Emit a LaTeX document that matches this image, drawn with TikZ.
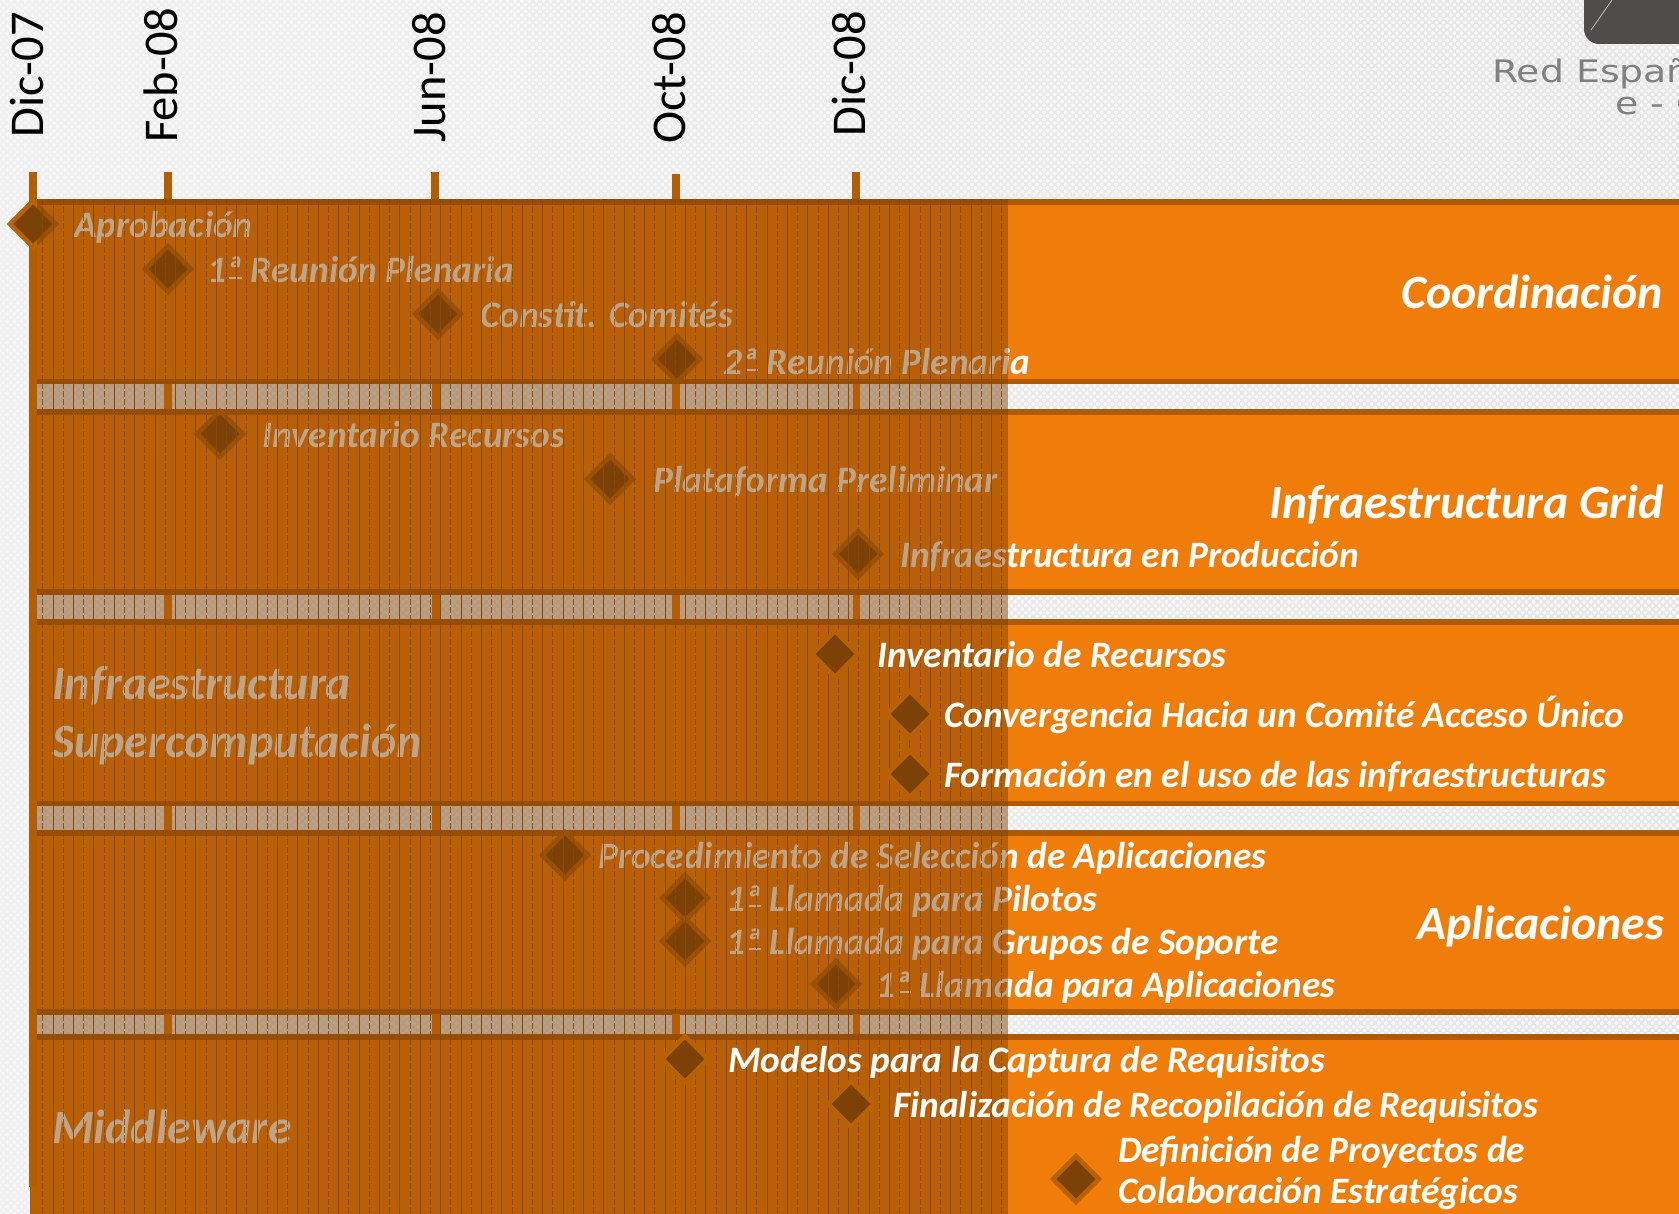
\documentclass[tikz,border=0pt]{standalone}
\usepackage{fontspec}
\usepackage{xcolor}
\usepackage{tikz}
\setmainfont{Carlito}
\newfontfamily\logofont{DejaVu Sans}
\usetikzlibrary{shapes.geometric,patterns}
\definecolor{bandorange}{HTML}{F07C0A}
\definecolor{bandline}{HTML}{B05A00}
\definecolor{tickbrown}{HTML}{B35E05}
\definecolor{haloorange}{HTML}{B86103}
\definecolor{shadebrown}{HTML}{7C4107}
\definecolor{stripebrown}{HTML}{8A4A05}
\definecolor{logogray}{HTML}{4F4D4B}
\pgfdeclarepatternformonly{bgdots}{\pgfqpoint{-3pt}{-3pt}}{\pgfqpoint{7pt}{7pt}}{\pgfqpoint{7.2pt}{7.2pt}}{
    \pgfpathcircle{\pgfqpoint{0pt}{0pt}}{2pt}
    \pgfpathcircle{\pgfqpoint{3.6pt}{3.6pt}}{2pt}
    \pgfusepath{fill}
}
\newcommand{\ordbar}{ª\llap{\rule[0.1em]{0.34em}{0.05em}\kern0.01em}}

\begin{document}
\begin{tikzpicture}[
    x=1pt, y=-1pt,
    band/.style={fill=bandorange, draw=bandline, line width=5.5pt},
    tick/.style={fill=tickbrown},
    milestone/.style={diamond, aspect=1, draw=haloorange, fill=shadebrown, line width=4.6pt, minimum size=47.5pt, inner sep=0pt},
    itemlabel/.style={anchor=base west, inner sep=0pt, text=white, font=\bfseries\itshape\fontsize{37.3}{40}\selectfont},
    blocklabel/.style={anchor=base east, inner sep=0pt, text=white, font=\bfseries\itshape\fontsize{47.8}{50}\selectfont},
    blockleft/.style={anchor=base west, inner sep=0pt, text=white, font=\bfseries\itshape\fontsize{47.8}{50}\selectfont},
    datelabel/.style={anchor=base west, rotate=90, inner sep=0pt, text=black, font=\fontsize{48.5}{52}\selectfont},
    logolabel/.style={anchor=base west, inner sep=0pt, xscale=1.22, text=gray, font=\logofont\fontsize{31}{34}\selectfont}
]
    \useasboundingbox (0,0) rectangle (1679,1214);

    % backdrop
    \fill[left color=white!94!black, right color=white!90!black] (0,0) rectangle (1679,1214);
    \fill[pattern=bgdots, pattern color=white!97!black] (0,0) rectangle (1679,1214);

    % logo corner
    \begin{scope}
        \clip (0,0) rectangle (1679,1214);
        \fill[logogray, rounded corners=15pt] (1584,-30) rectangle (1720,44);
        \draw[white!75!black, line width=0.8pt] (1591,30) -- (1612,0);
        \node[logolabel] (logoa) at (1492,83) {Red Españ};
        \node[logolabel] (logob) at (1615,115) {e - C};
    \end{scope}

    \node[datelabel] (d1) at (43,138) {Dic-07};
    \node[datelabel] (d2) at (177,143) {Feb-08};
    \node[datelabel] (d3) at (445,143) {Jun-08};
    \node[datelabel] (d4) at (685,144) {Oct-08};
    \node[datelabel] (d5) at (865,137) {Dic-08};

    % bands
    \path[band] (33,202) rectangle (1700,381.5);
    \path[band] (33,412) rectangle (1700,592);
    \path[band] (33,622) rectangle (1700,803.5);
    \path[band] (33,833) rectangle (1700,1012);
    \path[band] (33,1037) rectangle (1700,1240);

    % left edge and date ticks
    \fill[tick] (29,172) rectangle (37,1187);
    \fill[haloorange] (30.5,1187) rectangle (37,1214);
    \fill[tick] (164,172) rectangle (172,199);
    \fill[tick] (431,172) rectangle (439,199);
    \fill[tick] (672,174) rectangle (680,199);
    \fill[tick] (852,172) rectangle (860,199);

    % milestones below the shade
    \node[milestone] (m1) at (33,224) {};
    \node[milestone] (m2) at (168,269) {};
    \node[milestone] (m3) at (438,314) {};
    \node[milestone] (m4) at (677,359) {};
    \node[milestone] (m5) at (220,434) {};
    \node[milestone] (m6) at (610,479) {};
    \node[milestone] (m7) at (858,554) {};
    \node[milestone] (m8) at (565,855) {};
    \node[milestone] (m9) at (685,898) {};
    \node[milestone] (m10) at (685,941) {};
    \node[milestone] (m11) at (836,984) {};

    \node[itemlabel] (t1) at (74,238) {Aprobación};
    \node[itemlabel] (t2) at (207,283) {1\ordbar{} Reunión Plenaria};
    \node[itemlabel] (t3) at (480,328) {Constit. Comités};
    \node[itemlabel] (t4) at (723,375) {2\ordbar{} Reunión Plenaria};
    \node[itemlabel] (t5) at (262,447) {Inventario Recursos};
    \node[itemlabel] (t6) at (653,492) {Plataforma Preliminar};
    \node[itemlabel] (t7) at (900,567) {Infraestructura en Producción};
    \node[itemlabel] (t8) at (598,868) {Procedimiento de Selección de Aplicaciones};
    \node[itemlabel] (t9) at (726,911) {1\ordbar{} Llamada para Pilotos};
    \node[itemlabel] (t10) at (726,954) {1\ordbar{} Llamada para Grupos de Soporte};
    \node[itemlabel] (t11) at (876,997) {1\ordbar{} Llamada para Aplicaciones};

    \node[blocklabel] (b1) at (1663,309) {Coordinación};
    \node[blocklabel] (b2) at (1664,518) {Infraestructura Grid};
    \node[blocklabel] (b4) at (1664,939) {Aplicaciones};
    \node[blockleft] (b3a) at (52,699) {Infraestructura};
    \node[blockleft] (b3b) at (52,757) {Supercomputación};
    \node[blockleft] (b5) at (52,1143) {Middleware};

    % shade up to the current date
    \fill[shadebrown, fill opacity=0.48] (37,199) rectangle (1008,1214);
    \foreach \k in {0,...,94} {
        \ifodd\k
            \draw[stripebrown, line width=0.8pt] ({42.7+10.2*\k},199) -- ({42.7+10.2*\k},1214);
        \else
            \draw[stripebrown, line width=0.8pt, opacity=0.85, dash pattern=on 6pt off 2pt] ({42.7+10.2*\k},199) -- ({42.7+10.2*\k},1214);
        \fi
    }

    % ticks across the gaps
    \foreach \gy/\gh in {384/409, 595/619, 806/830, 1014/1034} {
        \fill[tick] (164,\gy) rectangle (172,\gh);
        \fill[tick] (432,\gy) rectangle (440,\gh);
        \fill[tick] (672,\gy) rectangle (680,\gh);
        \fill[tick] (853,\gy) rectangle (860,\gh);
    }

    % milestones above the shade
    \node[milestone] (m12) at (835,654) {};
    \node[milestone] (m13) at (910,714) {};
    \node[milestone] (m14) at (910,774) {};
    \node[milestone] (m15) at (685,1059) {};
    \node[milestone] (m16) at (851,1104) {};
    \node[milestone] (m17) at (1076,1179) {};

    \node[itemlabel] (t12) at (877,667) {Inventario de Recursos};
    \node[itemlabel] (t13) at (944,727) {Convergencia Hacia un Comité Acceso Único};
    \node[itemlabel] (t14) at (944,787) {Formación en el uso de las infraestructuras};
    \node[itemlabel] (t15) at (728,1072) {Modelos para la Captura de Requisitos};
    \node[itemlabel] (t16) at (893,1117) {Finalización de Recopilación de Requisitos};
    \node[itemlabel] (t17) at (1118,1162) {Definición de Proyectos de};
    \node[itemlabel] (t18) at (1118,1203) {Colaboración Estratégicos};
\end{tikzpicture}
\end{document}
